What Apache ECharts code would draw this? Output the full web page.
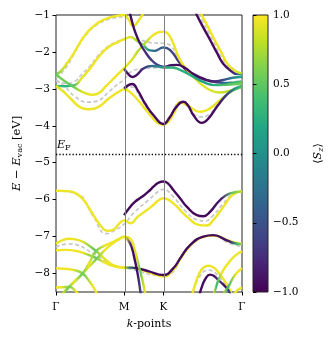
<!DOCTYPE html>
<html>
<head>
<meta charset="utf-8">
<script src="https://cdn.jsdelivr.net/npm/echarts@6/dist/echarts.min.js"></script>
<style>
  html, body { margin: 0; padding: 0; background: #fff; }
  #chart { width: 334px; height: 341px; }
</style>
</head>
<body>
<div id="chart"></div>
<script>
// k path Γ-M-K-Γ as fraction of total length
const kTicks = [0, 0.366, 0.577, 1]
const kLabels = ["Γ", "M", "K", "Γ"]
const eTicks = [-8, -7, -6, -5, -4, -3, -2, -1]
const szTicks = [-1, -0.5, 0, 0.5, 1]
const fermiLevel = -4.76

// SOC bands: [k, E, <Sz>]
const bandU1 = [[0,-2.62,0.3],[0.03,-2.5,0.7],[0.06,-2.3,0.9],[0.09,-2.08,0.95],[0.125,-1.78,0.95],[0.16,-1.52,0.95],[0.21,-1.27,0.95],[0.265,-1.11,0.95],[0.32,-1.03,0.95],[0.366,-1.0,0.95],[0.39,-1.12,0.95],[0.415,-1.3,0.9],[0.44,-1.18,0.95],[0.47,-0.95,0.95]]
const bandU2 = [[0,-2.92,0.4],[0.05,-2.93,0.3],[0.1,-2.9,0.3],[0.14,-2.7,0.9],[0.177,-2.49,0.95],[0.23,-2.13,0.95],[0.284,-1.86,0.95],[0.338,-1.72,0.95],[0.366,-1.66,0.95],[0.4,-1.6,0.9],[0.43,-1.68,0.8],[0.47,-1.82,0.5],[0.5,-1.95,0],[0.53,-1.97,-0.4],[0.577,-1.88,-0.4],[0.614,-1.95,-0.6],[0.667,-2.31,-0.7],[0.721,-2.58,-0.75],[0.775,-2.71,-0.8],[0.846,-2.8,-0.6],[0.9,-2.84,-0.3],[0.95,-2.83,0.3],[1,-2.8,0.5]]
const bandU3 = [[0,-2.62,0.5],[0.05,-2.8,0.6],[0.1,-2.96,0.5],[0.15,-3.1,0.9],[0.2,-3.16,0.95],[0.235,-3.1,0.95],[0.266,-2.94,0.95],[0.32,-2.67,0.95],[0.366,-2.44,0.95],[0.41,-2.2,0.9],[0.44,-1.98,0.8],[0.47,-1.82,0.7],[0.51,-1.6,0.95],[0.545,-1.48,0.95],[0.577,-1.45,0.95],[0.6,-1.5,0.95],[0.623,-1.68,0.95],[0.667,-2.22,0.95],[0.721,-2.58,0.9],[0.775,-2.85,0.9],[0.828,-3.03,0.9],[0.882,-3.1,0.85],[0.94,-3.04,0.7],[1,-2.94,0.7]]
const bandU4 = [[0,-2.92,0.9],[0.035,-3.05,0.9],[0.07,-3.22,0.95],[0.14,-3.52,0.95],[0.177,-3.55,0.95],[0.23,-3.48,0.95],[0.284,-3.26,0.95],[0.338,-3.08,0.95],[0.366,-3.01,0.95],[0.4,-3.1,0.95],[0.44,-3.3,0.95],[0.48,-3.55,0.95],[0.513,-3.75,0.95],[0.545,-3.92,0.95],[0.577,-3.97,0.95],[0.61,-3.85,0.95],[0.64,-3.6,0.95],[0.665,-3.37,0.95],[0.7,-3.42,0.95],[0.74,-3.56,0.95],[0.775,-3.62,0.95],[0.81,-3.58,0.95],[0.86,-3.4,0.9],[0.92,-3.15,0.7],[0.96,-3.02,0.5],[1,-2.95,0.5]]
const bandP1 = [[0.395,-0.9,-0.95],[0.41,-1.2,-0.95],[0.425,-1.45,-0.95],[0.45,-1.75,-0.9],[0.48,-2.0,-0.8],[0.51,-2.2,-0.7],[0.545,-2.35,-0.6],[0.577,-2.4,-0.6],[0.62,-2.36,-0.9],[0.65,-2.35,-0.95],[0.69,-2.42,-0.95],[0.74,-2.6,-0.95],[0.8,-2.74,-0.9],[0.85,-2.8,-0.8],[0.9,-2.76,-0.5],[0.95,-2.7,0],[1,-2.67,0.2]]
const bandP2 = [[0.366,-2.45,0.5],[0.385,-2.58,-0.8],[0.41,-2.68,-0.95],[0.435,-2.62,-0.95],[0.47,-2.45,-0.8],[0.52,-2.38,-0.3],[0.577,-2.42,0.1],[0.62,-2.42,0.3],[0.66,-2.47,0.3],[0.73,-2.65,0.2],[0.8,-2.83,0.1],[0.86,-2.9,0.3],[0.93,-2.88,0.5],[1,-2.86,0.6]]
const bandP3 = [[0.366,-2.99,-0.5],[0.39,-2.9,-0.95],[0.41,-2.87,-0.95],[0.44,-3.05,-0.95],[0.478,-3.39,-0.95],[0.53,-3.75,-0.95],[0.577,-3.95,-0.95],[0.61,-3.78,-0.95],[0.645,-3.5,-0.95],[0.685,-3.35,-0.95],[0.71,-3.45,-0.95],[0.74,-3.72,-0.95],[0.784,-3.92,-0.95],[0.82,-3.8,-0.95],[0.87,-3.45,-0.9],[0.92,-3.15,-0.5],[0.96,-3.0,0.2],[1,-2.92,0.5]]
const bandS1 = [[0.74,-0.8,-0.95],[0.757,-1.0,-0.95],[0.79,-1.32,-0.95],[0.828,-1.67,-0.95],[0.865,-2.02,-0.95],[0.898,-2.31,-0.95],[0.945,-2.53,-0.8],[0.975,-2.6,-0.2],[1,-2.6,0.2]]
const bandS2 = [[0.765,-0.8,0.95],[0.783,-1.0,0.95],[0.815,-1.3,0.95],[0.85,-1.65,0.95],[0.89,-2.02,0.95],[0.92,-2.31,0.95],[0.96,-2.5,0.9],[1,-2.58,0.7]]
const bandL1 = [[0,-5.76,0.95],[0.06,-5.77,0.95],[0.113,-5.85,0.95],[0.15,-6.02,0.95],[0.184,-6.28,0.95],[0.238,-6.69,0.95],[0.274,-6.84,0.95],[0.3,-6.83,0.95],[0.345,-6.62,0.95],[0.366,-6.56,0.95],[0.4,-6.64,0.95],[0.44,-6.46,0.95],[0.513,-6.19,0.95],[0.55,-6.02,0.95],[0.577,-5.96,0.95],[0.631,-6.1,0.95],[0.703,-6.46,0.95],[0.775,-6.69,0.95],[0.81,-6.7,0.95],[0.846,-6.55,0.95],[0.9,-6.19,0.95],[0.95,-5.87,0.95],[1,-5.77,0.95]]
const bandL2 = [[0.366,-6.42,-0.9],[0.39,-6.25,-0.95],[0.424,-6.06,-0.95],[0.46,-5.93,-0.95],[0.495,-5.79,-0.95],[0.53,-5.62,-0.95],[0.555,-5.53,-0.95],[0.577,-5.51,-0.95],[0.6,-5.55,-0.95],[0.631,-5.74,-0.95],[0.67,-5.98,-0.95],[0.703,-6.19,-0.95],[0.757,-6.42,-0.95],[0.792,-6.45,-0.95],[0.828,-6.33,-0.95],[0.882,-6.01,-0.8],[0.936,-5.83,0.5],[1,-5.78,0.9]]
const bandA1 = [[0,-7.19,0.95],[0.04,-7.09,0.95],[0.07,-7.06,0.95],[0.11,-7.08,0.95],[0.152,-7.16,0.9],[0.215,-7.39,0.5],[0.25,-7.55,0.9],[0.29,-7.72,0.95],[0.33,-7.81,0.95],[0.366,-7.84,0.95],[0.42,-7.85,0.6],[0.47,-7.92,0.95],[0.52,-8.0,0.95],[0.577,-8.08,0.95],[0.63,-7.9,0.95],[0.67,-7.6,0.95],[0.721,-7.25,0.95],[0.792,-7.01,0.95],[0.846,-6.97,0.95],[0.918,-7.09,0.95],[0.96,-7.16,0.95],[1,-7.19,0.95]]
const bandA2 = [[0,-7.37,0.95],[0.05,-7.36,0.95],[0.1,-7.38,0.95],[0.15,-7.45,0.95],[0.22,-7.59,0.5],[0.26,-7.7,0.95],[0.31,-7.8,0.95],[0.366,-7.84,0.95],[0.4,-7.84,-0.3],[0.44,-7.86,-0.95],[0.5,-7.94,-0.95],[0.577,-8.04,-0.95],[0.63,-7.86,-0.95],[0.67,-7.57,-0.95],[0.721,-7.23,-0.95],[0.792,-7.0,-0.95],[0.846,-6.96,-0.95],[0.918,-7.1,-0.9],[0.96,-7.18,0.3],[1,-7.21,0.9]]
const bandC1 = [[0,-8.75,0.95],[0.04,-8.52,0.95],[0.071,-8.36,0.55],[0.105,-8.18,0.95],[0.143,-8.0,0.55],[0.18,-7.7,0.95],[0.215,-7.39,0.55],[0.26,-7.25,0.95],[0.3,-7.16,0.95],[0.34,-7.06,0.95],[0.366,-7.0,0.95],[0.398,-7.05,0.95],[0.424,-7.37,0.9],[0.442,-7.73,0.5],[0.456,-8.0,0.8],[0.469,-8.27,0.95],[0.481,-8.6,0.95]]
const bandC2 = [[0,-8.77,0.95],[0.04,-8.53,0.95],[0.071,-8.36,0.55],[0.105,-8.2,0.95],[0.143,-8.0,0.55],[0.18,-7.8,0.95],[0.22,-7.59,0.55],[0.26,-7.38,0.95],[0.3,-7.2,0.95],[0.34,-7.07,0.95],[0.366,-7.01,0.95],[0.39,-7.12,-0.8],[0.406,-7.28,-0.95],[0.424,-7.64,-0.95],[0.442,-8.09,-0.6],[0.456,-8.58,-0.95]]
const bandD = [[0,-7.86,0.95],[0.04,-7.87,0.95],[0.09,-7.9,0.95],[0.143,-8.0,0.55],[0.188,-8.27,0.95],[0.21,-8.45,0.95],[0.225,-8.6,0.95]]
const bandE = [[0,-8.38,0.95],[0.035,-8.37,0.95],[0.071,-8.36,0.55],[0.1,-8.45,0.95],[0.125,-8.6,0.95]]
const bandY = [[0.725,-8.7,0.95],[0.745,-8.35,0.95],[0.77,-8.0,0.95],[0.795,-7.83,0.95],[0.82,-7.79,0.95],[0.845,-7.83,0.95],[0.87,-7.95,0.95],[0.9,-8.15,0.95],[0.93,-8.4,0.95],[0.95,-8.65,0.95]]
const bandPa = [[0.765,-8.7,-0.95],[0.785,-8.35,-0.95],[0.806,-8.12,-0.95],[0.828,-8.03,-0.95],[0.85,-8.07,-0.95],[0.873,-8.18,-0.6],[0.9,-8.3,-0.95],[0.926,-8.45,-0.6],[0.94,-8.6,-0.95]]
const bandR1 = [[0.84,-8.7,0.95],[0.855,-8.45,0.95],[0.873,-8.18,0.3],[0.895,-7.95,0.95],[0.918,-7.77,0.95],[0.962,-7.52,0.95],[1,-7.4,0.95]]
const bandR2 = [[0.878,-8.7,0.95],[0.9,-8.55,0.95],[0.926,-8.36,0.3],[0.962,-8.04,0.95],[1,-7.86,0.95]]
const bandR3 = [[0.945,-8.65,0.95],[0.975,-8.45,0.95],[1,-8.38,0.95]]

// bands without SOC: [k, E]
const plainA = [[0,-2.7],[0.05,-2.45],[0.09,-2.12],[0.125,-1.8],[0.16,-1.55],[0.21,-1.3],[0.27,-1.14],[0.32,-1.07],[0.366,-1.05],[0.4,-1.2],[0.42,-1.28],[0.45,-1.1],[0.47,-0.9]]
const plainB = [[0,-2.78],[0.06,-2.85],[0.1,-2.8],[0.14,-2.6],[0.18,-2.4],[0.23,-2.08],[0.284,-1.84],[0.338,-1.7],[0.366,-1.64],[0.4,-1.6],[0.45,-1.67],[0.51,-1.75],[0.577,-1.77],[0.62,-1.85],[0.667,-2.25],[0.721,-2.55],[0.775,-2.75],[0.85,-2.9],[0.92,-2.9],[1,-2.76]]
const plainC = [[0,-2.76],[0.05,-2.95],[0.1,-3.2],[0.17,-3.36],[0.22,-3.33],[0.28,-3.1],[0.33,-2.88],[0.366,-2.75],[0.4,-2.55],[0.45,-2.46],[0.52,-2.43],[0.577,-2.42],[0.63,-2.44],[0.7,-2.56],[0.78,-2.75],[0.88,-2.85],[1,-2.76]]
const plainD = [[0.366,-3.0],[0.41,-2.95],[0.45,-3.2],[0.5,-3.6],[0.577,-3.93],[0.62,-3.7],[0.665,-3.36],[0.7,-3.45],[0.78,-3.76],[0.82,-3.7],[0.88,-3.35],[0.94,-3.05],[1,-2.93]]
const plainS = [[0.75,-0.8],[0.77,-1.0],[0.84,-1.66],[0.91,-2.3],[0.96,-2.5],[1,-2.6]]
const plainL = [[0,-5.76],[0.113,-5.84],[0.2,-6.45],[0.27,-6.92],[0.32,-6.82],[0.366,-6.66],[0.42,-6.35],[0.5,-6.0],[0.55,-5.78],[0.577,-5.72],[0.63,-5.92],[0.7,-6.33],[0.76,-6.55],[0.8,-6.58],[0.84,-6.45],[0.9,-6.1],[0.95,-5.85],[1,-5.77]]
const plainM = [[0,-7.28],[0.07,-7.2],[0.215,-7.5],[0.3,-7.78],[0.366,-7.84],[0.577,-8.06],[0.721,-7.25],[0.846,-6.97],[0.92,-7.15],[1,-7.28]]
const plainN = [[0.73,-8.6],[0.77,-8.1],[0.82,-7.91],[0.87,-8.05],[0.93,-8.5],[0.95,-8.7]]

const socBands = [bandU1, bandU2, bandU3, bandU4, bandP1, bandP2, bandP3, bandS1, bandS2,
  bandL1, bandL2, bandA1, bandA2, bandC1, bandC2, bandD, bandE, bandY, bandPa, bandR1, bandR2, bandR3]
const plainBands = [plainA, plainB, plainC, plainD, plainS, plainL, plainM, plainN]

const viridis = ["#440154","#482475","#414487","#355f8d","#2a788e","#21918c","#22a884","#44bf70","#7ad151","#bddf26","#fde725"]
const serif = "DejaVu Serif"

function hex2rgb(h) {
  return [parseInt(h.slice(1, 3), 16), parseInt(h.slice(3, 5), 16), parseInt(h.slice(5, 7), 16)]
}
function cmap(sz) {
  let t = Math.min(1, Math.max(0, (sz + 1) / 2)) * 10
  let i = Math.min(9, Math.floor(t))
  let a = hex2rgb(viridis[i]), b = hex2rgb(viridis[i + 1])
  let w = t - i
  return "rgb(" + a.map((v, j) => Math.round(v + (b[j] - v) * w)).join(",") + ")"
}
function bandColor(band) {
  const k0 = band[0][0], k1 = band[band.length - 1][0]
  const stops = band.map(p => ({ offset: (p[0] - k0) / (k1 - k0), color: cmap(p[2]) }))
  return new echarts.graphic.LinearGradient(0, 0, 1, 0, stops)
}
const minus = v => String(v).replace("-", "\u2212")

const chart = echarts.init(document.getElementById("chart"), null, { renderer: "canvas" })

const series = []
plainBands.forEach((b, i) => {
  series.push({
    type: "line", data: b, showSymbol: false, smooth: 0.5, silent: true,
    lineStyle: { color: "#c8c8c8", width: 1.7, type: [4, 2.5] }, z: 2,
    markLine: i === 0 ? {
      silent: true, symbol: "none", animation: false,
      data: [
        { xAxis: kTicks[1], lineStyle: { color: "#808080", width: 1, type: "solid" }, label: { show: false } },
        { xAxis: kTicks[2], lineStyle: { color: "#808080", width: 1, type: "solid" }, label: { show: false } },
        {
          yAxis: fermiLevel, lineStyle: { color: "#000", width: 1.3, type: [1.3, 2] },
          label: {
            show: true, position: "insideStartTop", distance: [1, 2],
            formatter: () => "{e|E}{s|F}",
            rich: {
              e: { fontFamily: serif, fontStyle: "italic", fontSize: 11, color: "#000" },
              s: { fontFamily: serif, fontSize: 8, color: "#000", verticalAlign: "bottom", padding: [5, 0, 0, 0] }
            }
          }
        }
      ]
    } : undefined
  })
})
socBands.forEach(b => {
  series.push({
    type: "line", data: b.map(p => [p[0], p[1]]), showSymbol: false, smooth: 0.5,
    silent: true, lineStyle: { color: bandColor(b), width: 2.4 }, z: 3
  })
})

const option = {
  animation: false,
  grid: [
    { left: 56, top: 15, width: 186, height: 277, show: true, borderColor: "#222", borderWidth: 1, backgroundColor: "transparent" },
    { left: 253, top: 15, width: 15, height: 277 }
  ],
  xAxis: [
    {
      type: "value", min: 0, max: 1, gridIndex: 0,
      axisLine: { show: false },
      axisTick: { show: true, customValues: kTicks, length: 3.5, lineStyle: { color: "#000" } },
      axisLabel: {
        customValues: kTicks, margin: 10, color: "#000", fontFamily: serif, fontSize: 10.5,
        formatter: v => kLabels[kTicks.findIndex(t => Math.abs(t - v) < 1e-6)]
      },
      splitLine: { show: false },
      name: "{i|k}-points", nameLocation: "middle", nameGap: 27,
      nameTextStyle: { fontFamily: serif, fontSize: 11, color: "#000",
        rich: { i: { fontFamily: serif, fontStyle: "italic", fontSize: 11, color: "#000" } } }
    },
    { type: "value", min: 0, max: 1, gridIndex: 1, show: false }
  ],
  yAxis: [
    {
      type: "value", min: -8.5, max: -1, gridIndex: 0,
      axisLine: { show: false },
      axisTick: { show: true, customValues: eTicks, length: 3.5, lineStyle: { color: "#000" } },
      axisLabel: { customValues: eTicks, margin: 6, color: "#000", fontFamily: serif, fontSize: 10.5, formatter: minus },
      splitLine: { show: false },
      name: "{i|E} \u2212 {i|E}{s|vac} [eV]", nameLocation: "middle", nameGap: 31, nameRotate: 90,
      nameTextStyle: { fontFamily: serif, fontSize: 11.5, color: "#000",
        rich: {
          i: { fontFamily: serif, fontStyle: "italic", fontSize: 11.5, color: "#000" },
          s: { fontFamily: serif, fontSize: 8, color: "#000", verticalAlign: "bottom", padding: [5, 0, 0, 0] }
        } }
    },
    {
      type: "value", min: -1, max: 1, interval: 0.5, gridIndex: 1, position: "right",
      axisLine: { show: false },
      axisTick: { show: true, length: 3.5, lineStyle: { color: "#000" } },
      axisLabel: { margin: 5, color: "#000", fontFamily: serif, fontSize: 10.5, formatter: v => minus(v.toFixed(1)) },
      splitLine: { show: false },
      name: "\u27e8{i|S}{s|z}\u27e9", nameLocation: "middle", nameGap: 44, nameRotate: 90,
      nameTextStyle: { fontFamily: serif, fontSize: 11, color: "#000",
        rich: {
          i: { fontFamily: serif, fontStyle: "italic", fontSize: 11, color: "#000" },
          s: { fontFamily: serif, fontStyle: "italic", fontSize: 8, color: "#000", verticalAlign: "bottom", padding: [5, 0, 0, 0] }
        } }
    }
  ],
  graphic: [{
    type: "rect", z: 0,
    shape: { x: 253, y: 15, width: 15, height: 277 },
    style: {
      fill: new echarts.graphic.LinearGradient(0, 0, 0, 1,
        viridis.slice().reverse().map((c, i) => ({ offset: i / 10, color: c }))),
      stroke: "#222", lineWidth: 1
    }
  }],
  series: series
}
chart.setOption(option)
</script>
</body>
</html>
